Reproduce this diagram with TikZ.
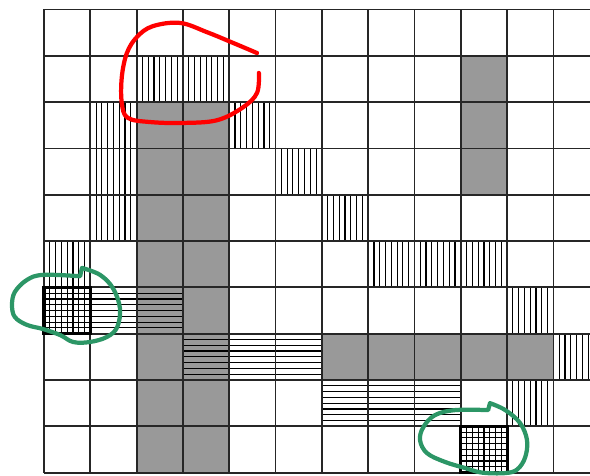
\documentclass[tikz,border=0pt]{standalone}
\definecolor{marcaverde}{RGB}{44,150,102}
\begin{document}
\begin{tikzpicture}[
    gris/.style={fill=black!40},
    raya/.style={line width=0.7pt,draw=black},
    celda/.style={line width=1.1pt,draw=black!85},
    borde/.style={line width=1.9pt,draw=black},
    marca/.style={line width=2.6pt,line cap=round,line join=round}]
    \useasboundingbox (-0.95,-0.054) rectangle (11.79,10.205);

    % celdas grises
    \foreach \x/\y in {9/8,9/7,9/6,6/2,7/2,8/2,9/2,10/2}{
      \fill[gris] (\x,\y) rectangle ++(1,1);
    }
    \foreach \y in {0,...,7}{
      \fill[gris] (2,\y) rectangle (4,{\y+1});
    }

    % rayado vertical
    \foreach \x/\y in {2/8,3/8,1/7,4/7,1/6,5/6,1/5,6/5,0/4,7/4,8/4,9/4,10/3,10/1,0/3,9/0}{
      \foreach \k in {1,...,7}
        \draw[raya] ({\x+\k/8},\y) -- ++(0,1);
    }
    \foreach \k in {1,...,6}
      \draw[raya] ({11+\k/8},2) -- ++(0,1);

    % rayado horizontal
    \foreach \x/\y in {1/3,2/3,3/2,4/2,5/2,6/1,7/1,8/1,0/3,9/0}{
      \foreach \k in {1,...,7}
        \draw[raya] (\x,{\y+\k/8}) -- ++(1,0);
    }

    % rejilla
    \foreach \x in {0,...,11}
      \draw[celda] (\x,0) -- (\x,10);
    \foreach \y in {0,...,10}
      \draw[celda] (0,\y) -- (11.79,\y);

    % celdas cuadriculadas
    \foreach \x/\y in {0/3,9/0}{
      \draw[borde] (\x,\y) rectangle ++(1,1);
    }

    % marcas a mano
    \draw[marca,red] plot[smooth,tension=0.6] coordinates {
      (4.60,9.06) (4.08,9.28) (3.52,9.51) (2.94,9.71) (2.35,9.64)
      (2.01,9.41) (1.79,9.06) (1.68,8.54) (1.68,7.98) (1.81,7.66)
      (2.29,7.57) (3.00,7.55) (3.74,7.61) (4.30,7.89) (4.60,8.20)
      (4.64,8.63)};
    \draw[marca,marcaverde] plot[smooth,tension=0.6] coordinates {
      (0.82,4.42) (1.21,4.27) (1.49,3.98) (1.64,3.55) (1.58,3.14)
      (1.36,2.93) (0.99,2.82) (0.63,2.82) (0.35,2.97) (-0.02,3.10)
      (-0.37,3.19) (-0.63,3.36) (-0.69,3.62) (-0.63,3.90) (-0.37,4.16)
      (-0.02,4.27) (0.78,4.24)} -- (0.82,4.42);
    \draw[marca,marcaverde] plot[smooth,tension=0.6] coordinates {
      (9.63,1.50) (9.96,1.35) (10.28,1.07) (10.43,0.70) (10.39,0.33)
      (10.22,0.07) (9.96,-0.01) (9.46,0.00) (9.09,0.10) (8.66,0.23)
      (8.27,0.42) (8.12,0.70) (8.19,0.98) (8.44,1.24) (8.88,1.35)
      (9.59,1.35)} -- (9.63,1.50);
  \end{tikzpicture}
\end{document}
